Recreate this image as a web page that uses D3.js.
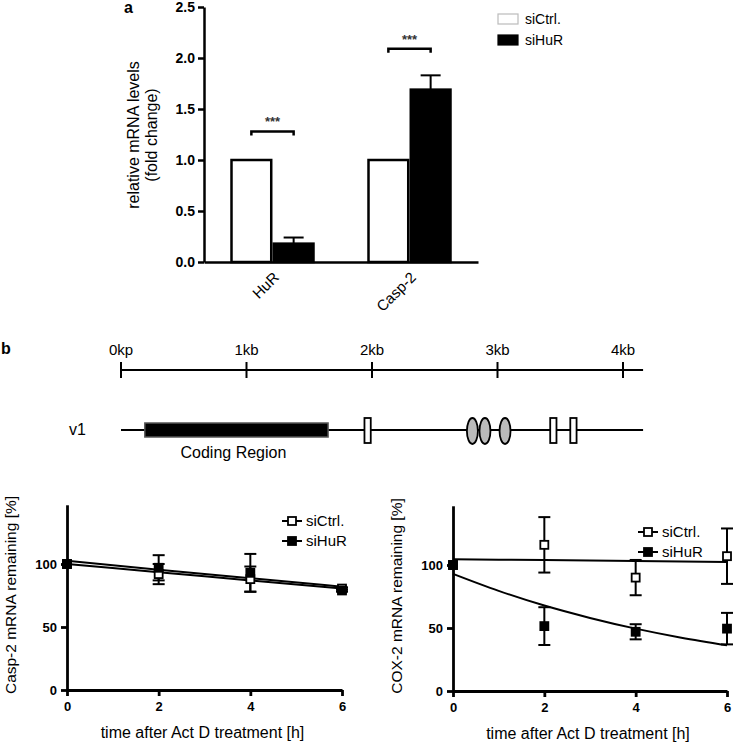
<!DOCTYPE html>
<html><head><meta charset="utf-8">
<script src="https://cdn.jsdelivr.net/npm/d3@7/dist/d3.min.js"></script>
<style>
body{margin:0;background:#fff}
svg{display:block;font-family:"Liberation Sans",Arial,Helvetica,sans-serif}
</style>
</head><body><svg id="c" width="733" height="743"></svg>
<script>
// ---------- Panel a data ----------
const genes = ["HuR", "Casp-2"];
const groups = ["siCtrl.", "siHuR"];
const ctrlValues = [1.0, 1.0];
const huRValues = [0.18, 1.69];
const huRErrors = [0.06, 0.14];
const sigLevels = [1.28, 2.09];
const sigLabels = ["***", "***"];
const yTicksA = [0, 0.5, 1.0, 1.5, 2.0, 2.5];

// ---------- Panel b gene map data (kb) ----------
const kbTicks = [0, 1, 2, 3, 4];
const kbLabels = ["0kp", "1kb", "2kb", "3kb", "4kb"];
const transcriptSpan = [0, 4.16];
const codingRegion = [0.19, 1.65];
const boxElements = [[1.94, 1.99], [3.42, 3.47], [3.58, 3.63]];
const ovalElements = [2.80, 2.90, 3.06];

// ---------- Panel b decay data ----------
const timePoints = [0, 2, 4, 6];
const yTicksB = [0, 50, 100];
const casp2Ctrl = [100, 92, 88, 80.5];
const casp2CtrlErr = [0, 8, 10, 1];
const casp2HuR = [100, 97, 93, 79];
const casp2HuRErr = [0, 10, 15, 1];
const casp2CtrlFit = [100, 93.5, 87, 80.5];
const casp2HuRFit = [102.5, 95.5, 88.7, 82];
const cox2Ctrl = [100, 116, 90, 107];
const cox2CtrlErr = [0, 22, 14, 22];
const cox2HuR = [100, 51.5, 47, 49.5];
const cox2HuRErr = [0, 15, 6, 12.5];
const fitTimes = [0, 1, 2, 3, 4, 5, 6];
const cox2CtrlFit = [104.5, 104.2, 103.9, 103.5, 103.1, 102.7, 102.3];
const cox2HuRFit = [93, 79.5, 67.8, 58, 49.5, 42.3, 36.3];

const svg = d3.select("#c");

// ================= Panel a =================
const gA = svg.append("g");
const yA = d3.scaleLinear().domain([0, 2.5]).range([262, 7]);
const xA = d3.scaleBand().domain(genes).range([204, 478]);
const xSub = d3.scaleBand().domain(groups).range([xA.bandwidth()/2 - 41, xA.bandwidth()/2 + 41]).paddingInner(0.06);

gA.append("text").attr("x", 124).attr("y", 13).attr("font-weight", "bold").attr("font-size", 16).text("a");

const yAxA = gA.append("g").attr("transform", "translate(204,0)")
  .call(d3.axisLeft(yA).tickValues(yTicksA).tickFormat(d3.format(".1f")).tickSize(6).tickSizeOuter(0).tickPadding(3));
yAxA.selectAll("text").attr("font-size", 14).attr("font-weight", "bold").attr("font-family", "Liberation Sans, Arial");
yAxA.selectAll("path,line").attr("stroke", "#000").attr("stroke-width", 2.5);

const xAxA = gA.append("g").attr("transform", "translate(0,262)")
  .call(d3.axisBottom(xA).tickSize(0).tickSizeOuter(0).tickFormat(""));
xAxA.select("path").attr("stroke", "#000").attr("stroke-width", 2.5);

genes.forEach((g, i) => {
  const cx = xA(g) + xA.bandwidth()/2;
  gA.append("text").attr("transform", `translate(${cx + 1},${272}) rotate(-45)`)
    .attr("text-anchor", "end").attr("dy", "0.6em").attr("font-size", 15).text(g);
});

const bars = [];
genes.forEach((g, i) => {
  bars.push({g, grp: groups[0], v: ctrlValues[i], e: 0});
  bars.push({g, grp: groups[1], v: huRValues[i], e: huRErrors[i]});
});
gA.selectAll("rect.bar").data(bars).join("rect").attr("class", "bar")
  .attr("x", d => xA(d.g) + xSub(d.grp))
  .attr("width", xSub.bandwidth())
  .attr("y", d => yA(d.v))
  .attr("height", d => yA(0) - yA(d.v))
  .attr("fill", d => d.grp === groups[0] ? "#fff" : "#000")
  .attr("stroke", "#000").attr("stroke-width", 2.5);

bars.filter(d => d.e > 0).forEach(d => {
  const cx = xA(d.g) + xSub(d.grp) + xSub.bandwidth()/2;
  gA.append("line").attr("x1", cx).attr("x2", cx).attr("y1", yA(d.v)).attr("y2", yA(d.v + d.e)).attr("stroke", "#000").attr("stroke-width", 2);
  gA.append("line").attr("x1", cx - 10).attr("x2", cx + 10).attr("y1", yA(d.v + d.e)).attr("y2", yA(d.v + d.e)).attr("stroke", "#000").attr("stroke-width", 2);
});

genes.forEach((g, i) => {
  const x1 = xA(g) + xSub(groups[0]) + xSub.bandwidth()/2;
  const x2 = xA(g) + xSub(groups[1]) + xSub.bandwidth()/2;
  const y = yA(sigLevels[i]);
  gA.append("path").attr("d", `M${x1},${y + 4}V${y}H${x2}V${y + 4}`)
    .attr("fill", "none").attr("stroke", "#000").attr("stroke-width", 2.5);
  gA.append("text").attr("x", (x1 + x2)/2).attr("y", y - 5).attr("text-anchor", "middle")
    .attr("font-size", 13).attr("font-weight", "bold").attr("fill", "#333").text(sigLabels[i]);
});

const yLabA = gA.append("text").attr("transform", "translate(143,135) rotate(-90)").attr("text-anchor", "middle").attr("font-size", 16);
yLabA.append("tspan").attr("x", 0).attr("dy", "-0.25em").text("relative mRNA levels");
yLabA.append("tspan").attr("x", 0).attr("dy", "1.15em").text("(fold change)");

const legA = gA.append("g");
groups.forEach((grp, i) => {
  legA.append("rect").attr("x", 498).attr("y", 14 + i*21).attr("width", 20).attr("height", 10)
    .attr("fill", i === 0 ? "#fff" : "#000").attr("stroke", i === 0 ? "#bbb" : "#000").attr("stroke-width", 1.2);
  legA.append("text").attr("x", 525).attr("y", 24 + i*21).attr("font-size", 14).text(grp);
});

// ================= Panel b: gene map =================
const gB = svg.append("g");
gB.append("text").attr("x", 1).attr("y", 354).attr("font-weight", "bold").attr("font-size", 16).text("b");
const xKb = d3.scaleLinear().domain([0, 4]).range([121, 623]);
const axisY = 370, trY = 430;
gB.append("line").attr("x1", xKb(transcriptSpan[0])).attr("x2", xKb(transcriptSpan[1])).attr("y1", axisY).attr("y2", axisY).attr("stroke", "#000").attr("stroke-width", 2);
kbTicks.forEach((k, i) => {
  gB.append("line").attr("x1", xKb(k)).attr("x2", xKb(k)).attr("y1", axisY - 8).attr("y2", axisY + 8).attr("stroke", "#000").attr("stroke-width", 2);
  gB.append("text").attr("x", xKb(k)).attr("y", axisY - 15).attr("text-anchor", "middle").attr("font-size", 15).text(kbLabels[i]);
});
gB.append("text").attr("x", 86).attr("y", trY + 5).attr("text-anchor", "end").attr("font-size", 16).text("v1");
gB.append("line").attr("x1", xKb(transcriptSpan[0])).attr("x2", xKb(transcriptSpan[1])).attr("y1", trY).attr("y2", trY).attr("stroke", "#000").attr("stroke-width", 2);
gB.append("rect").attr("x", xKb(codingRegion[0])).attr("width", xKb(codingRegion[1]) - xKb(codingRegion[0]))
  .attr("y", trY - 7).attr("height", 14).attr("fill", "#000").attr("stroke", "#555").attr("stroke-width", 1.5);
gB.append("text").attr("x", (xKb(codingRegion[0]) + xKb(codingRegion[1]))/2 - 3).attr("y", trY + 28).attr("text-anchor", "middle").attr("font-size", 16).text("Coding Region");
boxElements.forEach(b => {
  gB.append("rect").attr("x", xKb(b[0])).attr("width", xKb(b[1]) - xKb(b[0])).attr("y", trY - 12).attr("height", 25)
    .attr("fill", "#fff").attr("stroke", "#000").attr("stroke-width", 1.8);
});
ovalElements.forEach(o => {
  gB.append("ellipse").attr("cx", xKb(o)).attr("cy", trY + 1).attr("rx", 5.5).attr("ry", 13)
    .attr("fill", "#bbb").attr("stroke", "#000").attr("stroke-width", 1.8);
});

// ================= Decay charts =================
function decayChart(opt) {
  const g = svg.append("g");
  const x = d3.scaleLinear().domain([0, 6]).range([opt.x0, opt.x1]);
  const y = d3.scaleLinear().domain([0, 147]).range([opt.y0, opt.y0 - 147*1.26]);
  const yAx = g.append("g").attr("transform", `translate(${opt.x0},0)`)
    .call(d3.axisLeft(y).tickValues(yTicksB).tickFormat(d3.format("d")).tickSize(6).tickSizeOuter(0).tickPadding(4));
  const xAx = g.append("g").attr("transform", `translate(0,${opt.y0})`)
    .call(d3.axisBottom(x).tickValues(timePoints).tickFormat(d3.format("d")).tickSize(6).tickSizeOuter(0).tickPadding(6));
  [yAx, xAx].forEach(a => {
    a.selectAll("path,line").attr("stroke", "#000").attr("stroke-width", 2.8);
    a.selectAll("text").attr("font-size", 13).attr("font-weight", "bold").attr("font-family", "Liberation Sans, Arial");
  });
  g.append("text").attr("transform", `translate(${opt.x0 - 51},${opt.y0 - 95}) rotate(-90)`).attr("text-anchor", "middle").attr("font-size", 15.5).text(opt.ylab);
  g.append("text").attr("x", (opt.x0 + opt.x1)/2 - 2).attr("y", opt.y0 + 48).attr("text-anchor", "middle").attr("font-size", 16).text("time after Act D treatment [h]");

  const line = d3.line().x(d => x(d[0])).y(d => y(d[1])).curve(d3.curveMonotoneX);
  opt.fits.forEach(f => {
    g.append("path").attr("d", line(f.t.map((t, i) => [t, f.v[i]]))).attr("fill", "none").attr("stroke", "#000").attr("stroke-width", 2);
  });
  opt.series.forEach(s => {
    s.v.forEach((v, i) => {
      const cx = x(timePoints[i]);
      if (s.e[i] > 0) {
        g.append("line").attr("x1", cx).attr("x2", cx).attr("y1", y(v - s.e[i])).attr("y2", y(v + s.e[i])).attr("stroke", "#000").attr("stroke-width", 2);
        [v - s.e[i], v + s.e[i]].forEach(w => g.append("line").attr("x1", cx - 6).attr("x2", cx + 6).attr("y1", y(w)).attr("y2", y(w)).attr("stroke", "#000").attr("stroke-width", 2));
      }
    });
  });
  opt.series.forEach(s => {
    g.selectAll(null).data(s.v).join("rect")
      .attr("x", (d, i) => x(timePoints[i]) - 4).attr("y", d => y(d) - 4).attr("width", 8).attr("height", 8)
      .attr("fill", s.filled ? "#000" : "#fff").attr("stroke", "#000").attr("stroke-width", 1.8);
  });
  // legend
  opt.series.forEach((s, i) => {
    const ly = opt.legY + i*20;
    g.append("line").attr("x1", opt.legX - 10).attr("x2", opt.legX + 10).attr("y1", ly).attr("y2", ly).attr("stroke", "#000").attr("stroke-width", 2);
    g.append("rect").attr("x", opt.legX - 4).attr("y", ly - 4).attr("width", 8).attr("height", 8)
      .attr("fill", s.filled ? "#000" : "#fff").attr("stroke", "#000").attr("stroke-width", 1.8);
    g.append("text").attr("x", opt.legX + 14).attr("y", ly + 5).attr("font-size", 15).text(s.name);
  });
}

decayChart({
  x0: 67, x1: 342, y0: 690, ylab: "Casp-2 mRNA remaining [%]", legX: 292, legY: 521,
  fits: [{t: timePoints, v: casp2CtrlFit}, {t: timePoints, v: casp2HuRFit}],
  series: [{name: groups[0], v: casp2Ctrl, e: casp2CtrlErr, filled: false},
           {name: groups[1], v: casp2HuR, e: casp2HuRErr, filled: true}]
});
decayChart({
  x0: 453, x1: 727, y0: 691, ylab: "COX-2 mRNA remaining [%]", legX: 648, legY: 532,
  fits: [{t: fitTimes, v: cox2CtrlFit}, {t: fitTimes, v: cox2HuRFit}],
  series: [{name: groups[0], v: cox2Ctrl, e: cox2CtrlErr, filled: false},
           {name: groups[1], v: cox2HuR, e: cox2HuRErr, filled: true}]
});
</script>
</body></html>
